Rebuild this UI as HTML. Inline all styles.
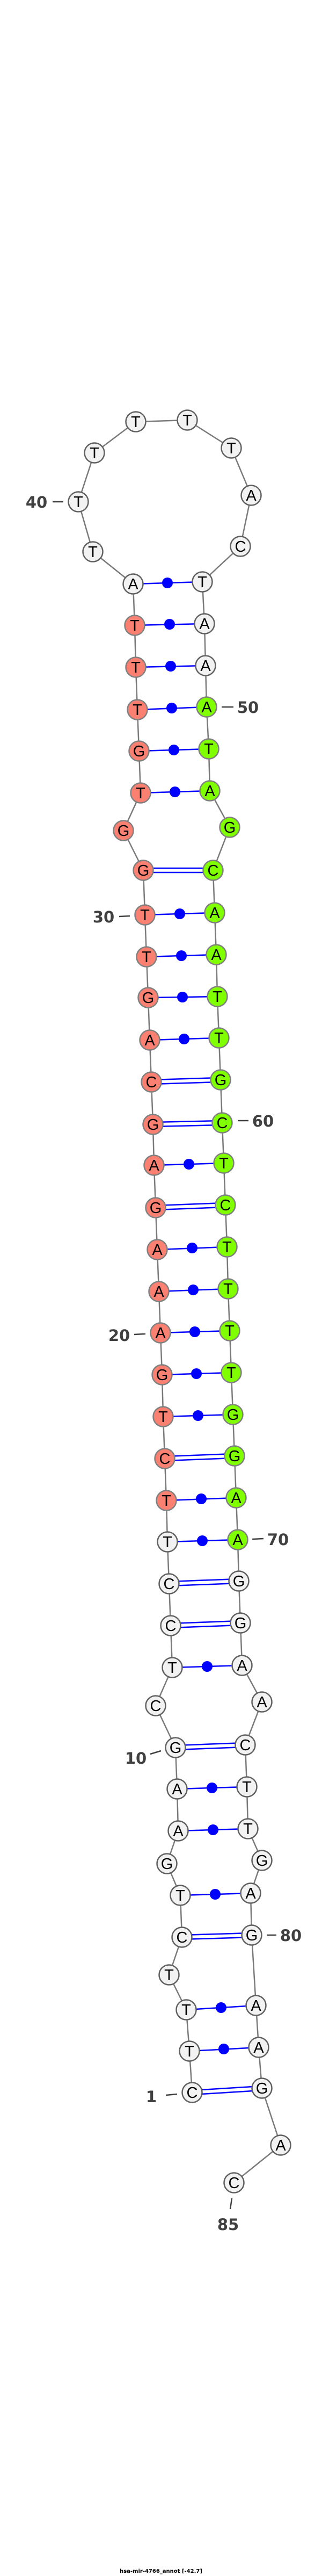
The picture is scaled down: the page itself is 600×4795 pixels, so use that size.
<!DOCTYPE html>
<html><head><meta charset="utf-8"><style>
html,body{margin:0;padding:0;background:#fff;}
svg{display:block;}
.n text{font-family:"Liberation Sans",sans-serif;font-size:29px;text-anchor:middle;fill:#000;}
.lb{font-family:"DejaVu Sans","Liberation Sans",sans-serif;font-size:29px;font-weight:bold;fill:#404040;text-anchor:middle;}
</style></head><body>
<svg width="600" height="4795" viewBox="0 0 600 4795" xmlns="http://www.w3.org/2000/svg">
<polyline fill="none" stroke="#7a7a7a" stroke-width="2.5" points="358,3895 353,3818 347,3741 315,3676 339,3606 336,3528 311,3469 332,3408 330,3330 327,3253 290,3175 321,3104 318,3026 315,2948 312,2870 310,2793 307,2715 304,2637 302,2559 299,2481 296,2404 293,2326 290,2248 287,2169 285,2093 282,2014 279,1936 276,1857 273,1781 270,1703 267,1620 230,1546 262,1476 259,1398 256,1321 253,1242 251,1164 248,1087 173,1027 146,934 176,843 253,785 349,782 431,834 468,922 448,1017 377,1083 381,1161 383,1239 385,1316 389,1394 391,1472 428,1540 397,1620 400,1699 403,1777 405,1855 408,1932 411,2010 414,2090 417,2165 420,2243 423,2321 425,2399 428,2477 431,2555 434,2633 437,2710 440,2788 443,2866 445,2943 448,3021 451,3100 488,3168 457,3248 460,3326 462,3404 488,3463 467,3524 469,3602 477,3733 482,3811 488,3887 523,3993 436,4063"/>
<g stroke="#0000ff" stroke-width="2.5" fill="none">
<!-- single pairs -->
<line x1="353" y1="3818" x2="482" y2="3811"/>
<line x1="347" y1="3741" x2="477" y2="3733"/>
<line x1="336" y1="3528" x2="467" y2="3524"/>
<line x1="332" y1="3408" x2="462" y2="3404"/>
<line x1="330" y1="3330" x2="460" y2="3326"/>
<line x1="321" y1="3104" x2="451" y2="3100"/>
<line x1="312" y1="2870" x2="443" y2="2866"/>
<line x1="310" y1="2793" x2="440" y2="2788"/>
<line x1="304" y1="2637" x2="434" y2="2633"/>
<line x1="302" y1="2559" x2="431" y2="2555"/>
<line x1="299" y1="2481" x2="428" y2="2477"/>
<line x1="296" y1="2404" x2="425" y2="2399"/>
<line x1="293" y1="2326" x2="423" y2="2321"/>
<line x1="287" y1="2169" x2="417" y2="2165"/>
<line x1="279" y1="1936" x2="408" y2="1932"/>
<line x1="276" y1="1857" x2="405" y2="1855"/>
<line x1="273" y1="1781" x2="403" y2="1777"/>
<line x1="270" y1="1703" x2="400" y2="1699"/>
<line x1="262" y1="1476" x2="391" y2="1472"/>
<line x1="259" y1="1398" x2="389" y2="1394"/>
<line x1="256" y1="1321" x2="385" y2="1316"/>
<line x1="253" y1="1242" x2="383" y2="1239"/>
<line x1="251" y1="1164" x2="381" y2="1161"/>
<line x1="248" y1="1087" x2="377" y2="1083"/>
<!-- double pairs -->
<line x1="358" y1="3891" x2="488" y2="3883"/><line x1="358" y1="3899" x2="488" y2="3891"/>
<line x1="339" y1="3602" x2="469" y2="3598"/><line x1="339" y1="3610" x2="469" y2="3606"/>
<line x1="327" y1="3249" x2="457" y2="3244"/><line x1="327" y1="3257" x2="457" y2="3252"/>
<line x1="318" y1="3022" x2="448" y2="3017"/><line x1="318" y1="3030" x2="448" y2="3025"/>
<line x1="315" y1="2944" x2="445" y2="2939"/><line x1="315" y1="2952" x2="445" y2="2947"/>
<line x1="307" y1="2711" x2="437" y2="2706"/><line x1="307" y1="2719" x2="437" y2="2714"/>
<line x1="290" y1="2244" x2="420" y2="2239"/><line x1="290" y1="2252" x2="420" y2="2247"/>
<line x1="285" y1="2089" x2="414" y2="2086"/><line x1="285" y1="2097" x2="414" y2="2094"/>
<line x1="282" y1="2010" x2="411" y2="2006"/><line x1="282" y1="2018" x2="411" y2="2014"/>
<line x1="267" y1="1616" x2="397" y2="1616"/><line x1="267" y1="1624" x2="397" y2="1624"/>
</g>
<g fill="#0000ff">
<circle cx="417" cy="3814" r="10"/><circle cx="412" cy="3737" r="10"/><circle cx="401" cy="3526" r="10"/>
<circle cx="397" cy="3406" r="10"/><circle cx="395" cy="3328" r="10"/><circle cx="386" cy="3102" r="10"/>
<circle cx="377" cy="2868" r="10"/><circle cx="375" cy="2790" r="10"/><circle cx="369" cy="2635" r="10"/>
<circle cx="366" cy="2557" r="10"/><circle cx="363" cy="2479" r="10"/><circle cx="360" cy="2401" r="10"/>
<circle cx="358" cy="2323" r="10"/><circle cx="352" cy="2167" r="10"/><circle cx="343" cy="1934" r="10"/>
<circle cx="340" cy="1856" r="10"/><circle cx="338" cy="1779" r="10"/><circle cx="335" cy="1701" r="10"/>
<circle cx="326" cy="1474" r="10"/><circle cx="324" cy="1396" r="10"/><circle cx="320" cy="1318" r="10"/>
<circle cx="318" cy="1240" r="10"/><circle cx="316" cy="1162" r="10"/><circle cx="312" cy="1085" r="10"/>
</g>
<!-- labels -->
<g stroke="#404040" stroke-width="2.5">
<line x1="98" y1="934" x2="118" y2="934"/>
<line x1="413" y1="1316" x2="435" y2="1316"/>
<line x1="222" y1="1706" x2="242" y2="1705"/>
<line x1="443" y1="2086" x2="463" y2="2086"/>
<line x1="250" y1="2484" x2="271" y2="2483"/>
<line x1="470" y1="2865" x2="491" y2="2864"/>
<line x1="280" y1="3265" x2="300" y2="3259"/>
<line x1="497" y1="3602" x2="515" y2="3602"/>
<line x1="309" y1="3900" x2="330" y2="3898"/>
<line x1="432" y1="4092" x2="429" y2="4112"/>
</g>
<text class="lb" x="68" y="945">40</text>
<text class="lb" x="462" y="1327">50</text>
<text class="lb" x="193" y="1717">30</text>
<text class="lb" x="490" y="2097">60</text>
<text class="lb" x="222" y="2496">20</text>
<text class="lb" x="518" y="2876">70</text>
<text class="lb" x="253" y="3283">10</text>
<text class="lb" x="542" y="3613">80</text>
<text class="lb" x="282" y="3913">1</text>
<text class="lb" x="425" y="4151">85</text>
<!-- nodes: white -->
<g class="n">
<g fill="#f2f2f2" stroke="#606060" stroke-width="2.5">
<circle cx="358" cy="3895" r="18.5"/><circle cx="353" cy="3818" r="18.5"/><circle cx="347" cy="3741" r="18.5"/>
<circle cx="315" cy="3676" r="18.5"/><circle cx="339" cy="3606" r="18.5"/><circle cx="336" cy="3528" r="18.5"/>
<circle cx="311" cy="3469" r="18.5"/><circle cx="332" cy="3408" r="18.5"/><circle cx="330" cy="3330" r="18.5"/>
<circle cx="327" cy="3253" r="18.5"/><circle cx="290" cy="3175" r="18.5"/><circle cx="321" cy="3104" r="18.5"/>
<circle cx="318" cy="3026" r="18.5"/><circle cx="315" cy="2948" r="18.5"/><circle cx="312" cy="2870" r="18.5"/>
<circle cx="248" cy="1087" r="18.5"/><circle cx="173" cy="1027" r="18.5"/><circle cx="146" cy="934" r="18.5"/>
<circle cx="176" cy="843" r="18.5"/><circle cx="253" cy="785" r="18.5"/><circle cx="349" cy="782" r="18.5"/>
<circle cx="431" cy="834" r="18.5"/><circle cx="468" cy="922" r="18.5"/><circle cx="448" cy="1017" r="18.5"/>
<circle cx="377" cy="1083" r="18.5"/><circle cx="381" cy="1161" r="18.5"/><circle cx="383" cy="1239" r="18.5"/>
<circle cx="445" cy="2943" r="18.5"/><circle cx="448" cy="3021" r="18.5"/><circle cx="451" cy="3100" r="18.5"/>
<circle cx="488" cy="3168" r="18.5"/><circle cx="457" cy="3248" r="18.5"/><circle cx="460" cy="3326" r="18.5"/>
<circle cx="462" cy="3404" r="18.5"/><circle cx="488" cy="3463" r="18.5"/><circle cx="467" cy="3524" r="18.5"/>
<circle cx="469" cy="3602" r="18.5"/><circle cx="477" cy="3733" r="18.5"/><circle cx="482" cy="3811" r="18.5"/>
<circle cx="488" cy="3887" r="18.5"/><circle cx="523" cy="3993" r="18.5"/><circle cx="436" cy="4063" r="18.5"/>
</g>
<g fill="#fa8072" stroke="#808080" stroke-width="2.5">
<circle cx="310" cy="2793" r="18.5"/><circle cx="307" cy="2715" r="18.5"/><circle cx="304" cy="2637" r="18.5"/>
<circle cx="302" cy="2559" r="18.5"/><circle cx="299" cy="2481" r="18.5"/><circle cx="296" cy="2404" r="18.5"/>
<circle cx="293" cy="2326" r="18.5"/><circle cx="290" cy="2248" r="18.5"/><circle cx="287" cy="2169" r="18.5"/>
<circle cx="285" cy="2093" r="18.5"/><circle cx="282" cy="2014" r="18.5"/><circle cx="279" cy="1936" r="18.5"/>
<circle cx="276" cy="1857" r="18.5"/><circle cx="273" cy="1781" r="18.5"/><circle cx="270" cy="1703" r="18.5"/>
<circle cx="267" cy="1620" r="18.5"/><circle cx="230" cy="1546" r="18.5"/><circle cx="262" cy="1476" r="18.5"/>
<circle cx="259" cy="1398" r="18.5"/><circle cx="256" cy="1321" r="18.5"/><circle cx="253" cy="1242" r="18.5"/>
<circle cx="251" cy="1164" r="18.5"/>
</g>
<g fill="#7fff00" stroke="#808080" stroke-width="2.5">
<circle cx="385" cy="1316" r="18.5"/><circle cx="389" cy="1394" r="18.5"/><circle cx="391" cy="1472" r="18.5"/>
<circle cx="428" cy="1540" r="18.5"/><circle cx="397" cy="1620" r="18.5"/><circle cx="400" cy="1699" r="18.5"/>
<circle cx="403" cy="1777" r="18.5"/><circle cx="405" cy="1855" r="18.5"/><circle cx="408" cy="1932" r="18.5"/>
<circle cx="411" cy="2010" r="18.5"/><circle cx="414" cy="2090" r="18.5"/><circle cx="417" cy="2165" r="18.5"/>
<circle cx="420" cy="2243" r="18.5"/><circle cx="423" cy="2321" r="18.5"/><circle cx="425" cy="2399" r="18.5"/>
<circle cx="428" cy="2477" r="18.5"/><circle cx="431" cy="2555" r="18.5"/><circle cx="434" cy="2633" r="18.5"/>
<circle cx="437" cy="2710" r="18.5"/><circle cx="440" cy="2788" r="18.5"/><circle cx="443" cy="2866" r="18.5"/>
</g>
<text x="358" y="3905">C</text><text x="353" y="3828">T</text><text x="347" y="3751">T</text>
<text x="315" y="3686">T</text><text x="339" y="3616">C</text><text x="336" y="3538">T</text>
<text x="311" y="3479">G</text><text x="332" y="3418">A</text><text x="330" y="3340">A</text>
<text x="327" y="3263">G</text><text x="290" y="3185">C</text><text x="321" y="3114">T</text>
<text x="318" y="3036">C</text><text x="315" y="2958">C</text><text x="312" y="2880">T</text>
<text x="310" y="2803">T</text><text x="307" y="2725">C</text><text x="304" y="2647">T</text>
<text x="302" y="2569">G</text><text x="299" y="2491">A</text><text x="296" y="2414">A</text>
<text x="293" y="2336">A</text><text x="290" y="2258">G</text><text x="287" y="2179">A</text>
<text x="285" y="2103">G</text><text x="282" y="2024">C</text><text x="279" y="1946">A</text>
<text x="276" y="1867">G</text><text x="273" y="1791">T</text><text x="270" y="1713">T</text>
<text x="267" y="1630">G</text><text x="230" y="1556">G</text><text x="262" y="1486">T</text>
<text x="259" y="1408">G</text><text x="256" y="1331">T</text><text x="253" y="1252">T</text>
<text x="251" y="1174">T</text><text x="248" y="1097">A</text><text x="173" y="1037">T</text>
<text x="146" y="944">T</text><text x="176" y="853">T</text><text x="253" y="795">T</text>
<text x="349" y="792">T</text><text x="431" y="844">T</text><text x="468" y="932">A</text>
<text x="448" y="1027">C</text><text x="377" y="1093">T</text><text x="381" y="1171">A</text>
<text x="383" y="1249">A</text><text x="385" y="1326">A</text><text x="389" y="1404">T</text>
<text x="391" y="1482">A</text><text x="428" y="1550">G</text><text x="397" y="1630">C</text>
<text x="400" y="1709">A</text><text x="403" y="1787">A</text><text x="405" y="1865">T</text>
<text x="408" y="1942">T</text><text x="411" y="2020">G</text><text x="414" y="2100">C</text>
<text x="417" y="2175">T</text><text x="420" y="2253">C</text><text x="423" y="2331">T</text>
<text x="425" y="2409">T</text><text x="428" y="2487">T</text><text x="431" y="2565">T</text>
<text x="434" y="2643">G</text><text x="437" y="2720">G</text><text x="440" y="2798">A</text>
<text x="443" y="2876">A</text><text x="445" y="2953">G</text><text x="448" y="3031">G</text>
<text x="451" y="3110">A</text><text x="488" y="3178">A</text><text x="457" y="3258">C</text>
<text x="460" y="3336">T</text><text x="462" y="3414">T</text><text x="488" y="3473">G</text>
<text x="467" y="3534">A</text><text x="469" y="3612">G</text><text x="477" y="3743">A</text>
<text x="482" y="3821">A</text><text x="488" y="3897">G</text><text x="523" y="4003">A</text>
<text x="436" y="4073">C</text>
</g>
<text x="300" y="4789" style="font-family:'DejaVu Sans','Liberation Sans',sans-serif;font-size:10px;font-weight:bold;text-anchor:middle;fill:#000">hsa-mir-4766_annot [-42.7]</text>
</svg>
</body></html>
